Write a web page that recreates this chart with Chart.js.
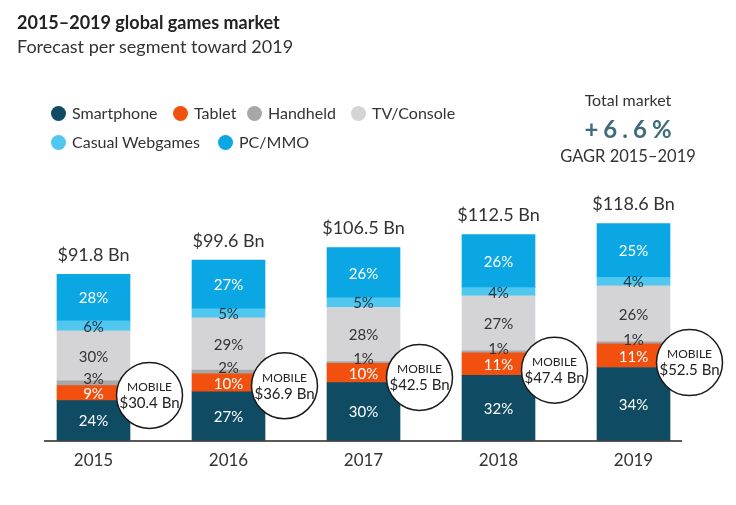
<!DOCTYPE html>
<html>
<head>
<meta charset="utf-8">
<script src="https://cdn.jsdelivr.net/npm/chart.js@4.4.1/dist/chart.umd.min.js"></script>
<style>
  body { margin: 0; background: #fff; font-family: Lato, "Open Sans", sans-serif; color: #333; }
  #wrap { position: relative; width: 736px; height: 505px; }
  #gamesChart { position: absolute; left: 0; top: 0; }
  .txt { position: absolute; white-space: nowrap; }
  #title { left: 17px; top: 11px; font-size: 18px; font-weight: bold; color: #222; }
  #subtitle { left: 17px; top: 35px; font-size: 18px; color: #333; }
  .leg { position: absolute; font-size: 16px; color: #333; white-space: nowrap; line-height: 20px; }
  .leg i { display: inline-block; width: 15px; height: 15px; border-radius: 50%; vertical-align: -2px; margin-right: 6px; }
  #total { left: 540px; width: 176px; top: 90px; text-align: center; }
  #total .a { font-size: 16px; color: #333; }
  #total .b { font-size: 24px; font-weight: bold; color: #3f6b7b; letter-spacing: 5px; margin: 5px 0 0 5px; }
  #total .c { font-size: 16.5px; color: #333; margin-top: 3px; }
</style>
</head>
<body>
<div id="wrap">
  <canvas id="gamesChart" width="736" height="505"></canvas>
  <div class="txt" id="title">2015–2019 global games market</div>
  <div class="txt" id="subtitle">Forecast per segment toward 2019</div>
  <div id="legend"></div>
  <div class="txt" id="total">
    <div class="a">Total market</div>
    <div class="b">+6.6%</div>
    <div class="c">GAGR 2015–2019</div>
  </div>
</div>
<script>
// data
var years = ["2015", "2016", "2017", "2018", "2019"];
var totals = [91.8, 99.6, 106.5, 112.5, 118.6];
var mobile = [30.4, 36.9, 42.5, 47.4, 52.5];

// share of each segment in %
var smartphone = [24, 27, 30, 32, 34];
var tablet = [9, 10, 10, 11, 11];
var handheld = [3, 2, 1, 1, 1];
var tvConsole = [30, 29, 28, 27, 26];
var casualWeb = [6, 5, 5, 4, 4];
var pcMmo = [28, 27, 26, 26, 25];

var segNames = ["Smartphone", "Tablet", "Handheld", "TV/Console", "Casual Webgames", "PC/MMO"];
var segShares = [smartphone, tablet, handheld, tvConsole, casualWeb, pcMmo];
var segColors = ["#0f4b62", "#f2500e", "#a7a7a9", "#d4d4d6", "#4fc7ef", "#0ba7e5"];
var labelColors = ["#fff", "#fff", "#333", "#333", "#1d3442", "#fff"];

// html legend (two rows like the original)
var legPos = [[51, 103], [173, 103], [247, 103], [351, 103], [51, 132], [218, 132]];
var legHtml = "";
for (var k = 0; k < segNames.length; k++) {
    legHtml += '<div class="leg" style="left:' + legPos[k][0] + 'px;top:' + legPos[k][1] + 'px">' +
        '<i style="background:' + segColors[k] + '"></i>' + segNames[k] + '</div>';
}
document.getElementById("legend").innerHTML = legHtml;

// segment values in Bn from share * total
var datasets = [];
for (var i = 0; i < segNames.length; i++) {
    datasets.push({
        label: segNames[i],
        data: segShares[i].map(function (p, j) { return p / 100 * totals[j]; }),
        backgroundColor: segColors[i],
        borderWidth: 0,
        barThickness: 73
    });
}

//draw % labels, totals, mobile circles and base line
var labelPlugin = {
    id: "labels",
    afterDatasetsDraw: function (chart) {
        var c = chart.ctx;
        var area = chart.chartArea;
        c.save();
        c.textAlign = "center";
        c.textBaseline = "middle";
        c.font = "15px Lato";
        for (var i = 0; i < chart.data.datasets.length; i++) {
            var meta = chart.getDatasetMeta(i);
            meta.data.forEach(function (bar, j) {
                var y = (bar.y + bar.base) / 2;
                if (i == 2) y = bar.y - 3;
                c.fillStyle = labelColors[i];
                c.fillText(segShares[i][j] + "%", bar.x, y + 1);
            });
        }
        // totals above the bars
        var topMeta = chart.getDatasetMeta(chart.data.datasets.length - 1);
        c.font = "18px Lato";
        c.fillStyle = "#333";
        topMeta.data.forEach(function (bar, j) {
            c.fillText("$" + totals[j].toFixed(1) + " Bn", bar.x, bar.y - 19);
        });
        // mobile bubbles
        topMeta.data.forEach(function (bar, j) {
            var cx = bar.x + 56;
            var cy = chart.scales.y.getPixelForValue(mobile[j] * 0.82);
            c.beginPath();
            c.arc(cx, cy, 33, 0, Math.PI * 2);
            c.fillStyle = "#fff";
            c.fill();
            c.lineWidth = 1.5;
            c.strokeStyle = "#1a1a1a";
            c.stroke();
            c.fillStyle = "#222";
            c.font = "12px Lato";
            c.fillText("MOBILE", cx, cy - 8);
            c.font = "15px Lato";
            c.fillText("$" + mobile[j].toFixed(1) + " Bn", cx, cy + 8);
        });
        // base line
        c.beginPath();
        c.moveTo(area.left + 18, area.bottom + 0.5);
        c.lineTo(area.right - 19, area.bottom + 0.5);
        c.lineWidth = 1.5;
        c.strokeStyle = "#222";
        c.stroke();
        c.restore();
    }
};

var ctx = document.getElementById("gamesChart").getContext("2d");
window.gamesChart = new Chart(ctx, {
    type: "bar",
    data: {
        labels: years,
        datasets: datasets
    },
    options: {
        responsive: false,
        animation: false,
        layout: { padding: { top: 205, left: 26, right: 35, bottom: 24 } },
        plugins: {
            legend: { display: false },
            tooltip: { enabled: false }
        },
        scales: {
            x: {
                stacked: true,
                grid: { display: false, drawTicks: false },
                border: { display: false },
                ticks: { color: "#333", font: { family: "Lato", size: 17 }, padding: 10 }
            },
            y: {
                stacked: true,
                display: false,
                min: 0,
                max: 130
            }
        }
    },
    plugins: [labelPlugin]
});
</script>
</body>
</html>
